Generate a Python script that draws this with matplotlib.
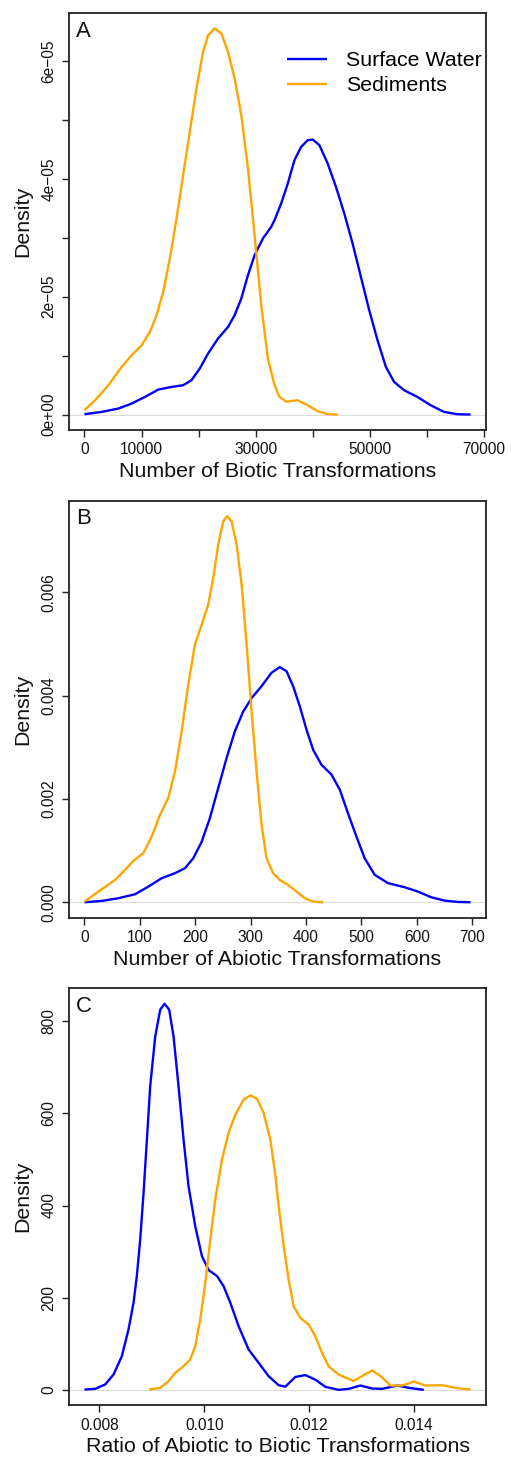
import matplotlib
matplotlib.use("Agg")
import matplotlib.pyplot as plt
import numpy as np

plt.rcParams['font.family'] = ['Liberation Sans', 'DejaVu Sans']

# ---------------- Panel A: biotic transformations (density in units of 1e-6) ----------------
bio_sw_x = [0, 3028, 5940, 8270, 10599, 12928, 15257, 17296, 18752, 20207, 21663, 23412,
            25158, 26323, 27488, 28652, 29817, 31273, 32729, 33310, 34475, 35640, 36805,
            37970, 39134, 40008, 41173, 42628, 44084, 45540, 46995, 48450, 49906, 51361,
            52826, 54274, 56021, 58350, 60679, 63008, 65338, 67667]
bio_sw_y = [0.06, 0.45, 1.02, 1.87, 2.99, 4.24, 4.69, 4.98, 5.83, 7.81, 10.36, 12.91,
            14.88, 16.87, 19.70, 23.66, 27.05, 29.89, 31.86, 33.0, 35.83, 39.23, 43.19,
            45.45, 46.58, 46.69, 45.73, 42.62, 38.65, 34.13, 29.04, 23.37, 17.72, 12.62,
            8.09, 5.54, 4.13, 2.99, 1.58, 0.45, 0.06, 0.0]
bio_sed_x = [0, 1864, 4193, 6522, 8270, 10017, 11473, 12637, 13802, 14966, 16131, 17296,
             18460, 19625, 20790, 21663, 22829, 23994, 25158, 26323, 27488, 28652, 29817,
             30981, 32146, 33310, 34184, 35349, 37387, 39134, 40881, 42628, 44376]
bio_sed_y = [0.74, 2.43, 4.98, 8.09, 10.07, 11.77, 14.03, 16.87, 20.83, 26.49, 33.28, 40.64,
             47.99, 55.36, 61.58, 64.41, 65.55, 64.7, 61.58, 57.06, 50.83, 41.77, 30.45,
             18.56, 9.51, 5.0, 3.0, 2.2, 2.43, 1.58, 0.57, 0.06, 0.0]
bio_xticks = [0, 10000, 20000, 30000, 40000, 50000, 60000, 70000]
bio_xticklabels = ["0", "10000", "", "30000", "", "50000", "", "70000"]
bio_yticks = [0, 1e-5, 2e-5, 3e-5, 4e-5, 5e-5, 6e-5]
bio_yticklabels = ["0e+00", "", "2e\u221205", "", "4e\u221205", "", "6e\u221205"]

# ---------------- Panel B: abiotic transformations ----------------
abio_sw_x = [0, 31.3, 61.3, 91.3, 115.4, 139.4, 163.4, 181.5, 196.5, 211.6, 226.5, 241.5,
             256.6, 271.6, 286.6, 301.7, 319.7, 337.7, 352.7, 364.8, 376.7, 388.8, 400.8,
             412.8, 427.9, 445.9, 460.9, 475.8, 491.0, 505.9, 524.0, 548.0, 578.0, 602.0,
             626.0, 650.0, 674.0, 697.0]
abio_sw_y = [0.0, 0.000026, 0.000078, 0.000155, 0.000303, 0.000465, 0.000562, 0.000659,
             0.000853, 0.00117, 0.00163, 0.00221, 0.00279, 0.00331, 0.00369, 0.00395,
             0.00418, 0.00444, 0.00455, 0.00447, 0.00418, 0.00379, 0.00334, 0.00295,
             0.00266, 0.00247, 0.00218, 0.00172, 0.00127, 0.00085, 0.00053, 0.00037,
             0.00029, 0.000206, 0.000097, 0.000032, 0.000006, 0.0]
abio_sed_x = [0, 25.2, 55.3, 73.3, 88.3, 106.3, 121.4, 136.4, 151.4, 163.4, 175.5, 187.4,
              199.5, 211.6, 223.5, 232.5, 241.5, 250.5, 257.8, 265.6, 274.7, 283.7, 292.7,
              301.7, 310.7, 319.7, 328.7, 340.7, 352.7, 367.7, 382.8, 397.8, 412.8, 430.8]
abio_sed_y = [0.000012, 0.000206, 0.000433, 0.000626, 0.000801, 0.00095, 0.00127, 0.00169,
              0.00202, 0.00253, 0.00331, 0.00421, 0.00499, 0.00537, 0.00576, 0.00628,
              0.00692, 0.00737, 0.00747, 0.00737, 0.00692, 0.00615, 0.00499, 0.00369,
              0.00253, 0.0015, 0.00085, 0.00056, 0.00043, 0.000336, 0.000206, 0.000078,
              0.000012, 0.0]
abio_xticks = [0, 100, 200, 300, 400, 500, 600, 700]
abio_xticklabels = ["0", "100", "200", "300", "400", "500", "600", "700"]
abio_yticks = [0.0, 0.002, 0.004, 0.006]
abio_yticklabels = ["0.000", "0.002", "0.004", "0.006"]

# ---------------- Panel C: ratio of abiotic to biotic ----------------
ratio_sw_x = [0.007713, 0.007917, 0.008108, 0.008268, 0.008427, 0.008554, 0.008650, 0.008713,
              0.008777, 0.008841, 0.008905, 0.008968, 0.009064, 0.009159, 0.009242, 0.009331,
              0.009414, 0.009509, 0.009605, 0.009700, 0.009828, 0.009956, 0.010083, 0.010243,
              0.010369, 0.010497, 0.010656, 0.010847, 0.011038, 0.011229, 0.011420, 0.011548,
              0.011739, 0.011930, 0.012121, 0.012312, 0.012567, 0.012758, 0.012981, 0.013204,
              0.013395, 0.013682, 0.013904, 0.014191]
ratio_sw_y = [0.7, 2.2, 11.6, 33.3, 73, 131, 189, 247, 326, 427, 543, 659, 767, 825, 838, 825,
              767, 659, 543, 442, 355, 290, 260, 247, 225, 189, 138, 87.5, 58.6, 29.6, 10, 7,
              28, 32, 22, 6.5, 0, 2.2, 9.4, 2.9, 2.2, 9.4, 4.3, 0]
ratio_sed_x = [0.008949, 0.009159, 0.009318, 0.009446, 0.009605, 0.009732, 0.009828, 0.009924,
               0.010019, 0.010115, 0.010210, 0.010338, 0.010465, 0.010592, 0.010752, 0.010879,
               0.011007, 0.011133, 0.011261, 0.011357, 0.011420, 0.011516, 0.011611, 0.011707,
               0.011834, 0.011993, 0.012121, 0.012249, 0.012375, 0.012566, 0.012853, 0.013013,
               0.013204, 0.013363, 0.013554, 0.013778, 0.014000, 0.014223, 0.014542, 0.014829,
               0.015083]
ratio_sed_y = [0.7, 4.3, 18.8, 36.9, 51.3, 65.8, 94.7, 153, 232, 326, 413, 500, 558, 597, 630,
               639, 632, 601, 543, 466, 398, 312, 239, 181, 156, 142, 116, 80, 51, 33, 19, 30,
               42, 30, 9.4, 9.4, 18, 9.4, 10, 3.6, 0.7]
ratio_xticks = [0.008, 0.010, 0.012, 0.014]
ratio_xticklabels = ["0.008", "0.010", "0.012", "0.014"]
ratio_yticks = [0, 200, 400, 600, 800]
ratio_yticklabels = ["0", "200", "400", "600", "800"]

series_names = ["Surface Water", "Sediments"]
panel_letters = ["A", "B", "C"]
xlabels = ["Number of Biotic Transformations", "Number of Abiotic Transformations",
           "Ratio of Abiotic to Biotic Transformations"]

panels = [
    (bio_sw_x, np.array(bio_sw_y) * 1e-6, bio_sed_x, np.array(bio_sed_y) * 1e-6,
     bio_xticks, bio_xticklabels, bio_yticks, bio_yticklabels),
    (abio_sw_x, abio_sw_y, abio_sed_x, abio_sed_y,
     abio_xticks, abio_xticklabels, abio_yticks, abio_yticklabels),
    (ratio_sw_x, ratio_sw_y, ratio_sed_x, ratio_sed_y,
     ratio_xticks, ratio_xticklabels, ratio_yticks, ratio_yticklabels),
]

W, H = 511, 1460
fig = plt.figure(figsize=(W / 100, H / 100), dpi=100)

ax_left, ax_right = 69, 486
ax_tops = [13, 500.7, 988.3]
ax_h = 417

BLUE = "#0000FF"
ORANGE = "#FFA500"
FS_LABEL = 15.4
FS_TICK = 11.2

for i, (swx, swy, sdx, sdy, xt, xtl, yt, ytl) in enumerate(panels):
    top = ax_tops[i]
    ax = fig.add_axes([ax_left / W, 1 - (top + ax_h) / H, (ax_right - ax_left) / W, ax_h / H])
    ax.axhline(0, color="#dcdcdc", lw=0.8, zorder=0)
    ax.plot(swx, swy, color=BLUE, lw=1.7, label=series_names[0],
            solid_joinstyle="round", solid_capstyle="butt")
    ax.plot(sdx, sdy, color=ORANGE, lw=1.7, label=series_names[1],
            solid_joinstyle="round", solid_capstyle="butt")

    xmin = min(min(swx), min(sdx)); xmax = max(max(swx), max(sdx))
    ymax = max(max(swy), max(sdy))
    rx = xmax - xmin
    ax.set_xlim(xmin - 0.04 * rx, xmax + 0.04 * rx)
    ax.set_ylim(-0.04 * ymax, 1.04 * ymax)

    ax.set_xticks(xt)
    ax.set_xticklabels(xtl)
    ax.set_yticks(yt)
    ax.set_yticklabels(ytl, rotation=90, va="center")
    ax.tick_params(axis="both", direction="out", length=5, width=1.0, color="#222222",
                   labelsize=FS_TICK, labelcolor="#111111")
    ax.tick_params(axis="x", pad=4)
    ax.tick_params(axis="y", pad=4)
    for s in ax.spines.values():
        s.set_color("#222222")
        s.set_linewidth(1.3)

    ax.set_xlabel(xlabels[i], fontsize=FS_LABEL, color="#111111")
    ax.xaxis.set_label_coords(0.5, -(471.7 - 430) / ax_h)
    ax.xaxis.label.set_va("center")
    ax.set_ylabel("Density", fontsize=FS_LABEL, color="#111111")
    ax.yaxis.set_label_coords(-(69 - 23) / (ax_right - ax_left), 0.5)
    ax.yaxis.label.set_va("center")

    ax.text(7.0 / 417, 1 - 7.5 / 417, panel_letters[i], transform=ax.transAxes,
            ha="left", va="top", fontsize=FS_LABEL + 0.5, color="#111111")

    if i == 0:
        ax.legend(loc="upper left", bbox_to_anchor=((286.7 - 69) / 417, 1 - (51 - 13) / 417),
                  frameon=False, fontsize=FS_LABEL, handlelength=1.87, handletextpad=0.89,
                  borderpad=0, borderaxespad=0, labelspacing=0.3)

fig.savefig("out.png", dpi=100, facecolor="white")
